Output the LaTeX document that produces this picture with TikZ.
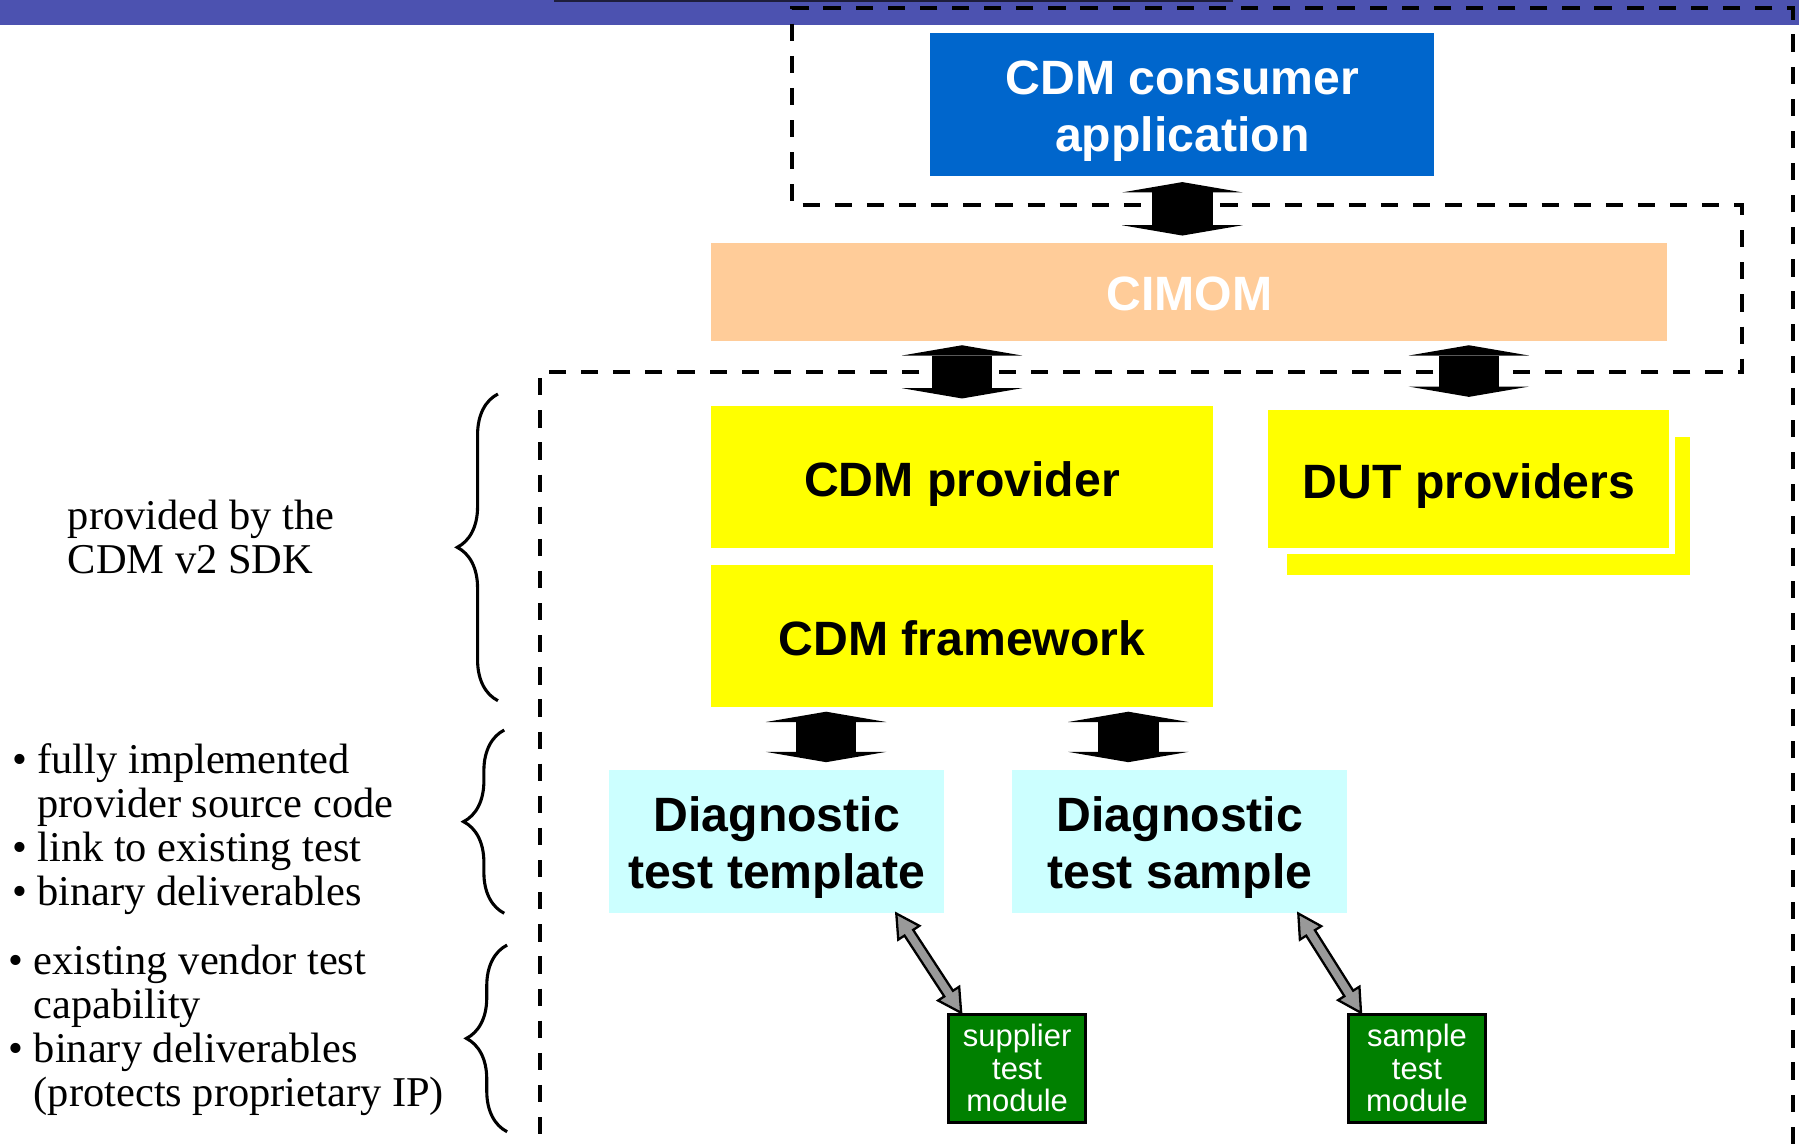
\documentclass[tikz,border=0pt]{standalone}
\usepackage{fontspec}
\setmainfont{Liberation Serif}
\setsansfont{Liberation Sans}
\usetikzlibrary{arrows.meta,calc,positioning,decorations.pathreplacing}

\definecolor{banner}{RGB}{76,82,176}
\definecolor{bannerline}{RGB}{30,30,60}
\definecolor{consumerblue}{HTML}{0066CC}
\definecolor{cimompeach}{HTML}{FFCC99}
\definecolor{provyellow}{RGB}{255,255,0}
\definecolor{diagcyan}{HTML}{CCFFFF}
\definecolor{modgreen}{HTML}{008000}
\definecolor{arrowgray}{HTML}{999999}

\newcommand{\notebullet}{\textbullet\hspace{9pt}}
\newcommand{\noteindent}{\phantom{\notebullet}}

\begin{document}
\begin{tikzpicture}[x=1pt,y=-1pt,
    blockbox/.style={inner sep=0pt, align=center, font=\sffamily\bfseries\fontsize{42}{50}\selectfont},
    oneline/.style={blockbox, text height=33pt, text depth=0pt},
    blockarrow/.style={line width=53pt,
      {Triangle[width=105pt,length=9pt,line width=0pt]}-{Triangle[width=105pt,length=9pt,line width=0pt]},
      shorten <=3.7pt, shorten >=6.5pt},
    grayarrow/.style={fill=arrowgray, draw=black, line width=2pt},
    testmodule/.style={draw=black, line width=2.5pt, fill=modgreen, text=white, inner sep=0pt,
      minimum width=119pt, minimum height=94pt, align=center,
      font=\sffamily\fontsize{27}{28.4}\selectfont},
    note/.style={anchor=west, align=left, inner sep=0pt, font=\fontsize{37}{38.2}\selectfont},
    sdkbrace/.style={decorate, decoration={brace, amplitude=35.5pt}, line width=2.7pt},
    regionline/.style={draw, line width=3.5pt, dash pattern=on 15pt off 13pt}]

    \useasboundingbox (0,0) rectangle (1568,997);

    % top band
    \fill[banner] (0,0) rectangle (1568,21.8);
    \fill[bannerline] (483,0) rectangle (1075,1.8);

    % dashed outline
    \draw[regionline] (1563,997) -- (1563,7.3) -- (690,7.3) -- (690,179) -- (1518,179)
      -- (1518,324) -- (471,324) -- (471,997);

    % boxes
    \node[blockbox, fill=consumerblue, text=white, minimum width=439pt, minimum height=124pt]
      (consumer) at (1030.5,91) {\rule{0pt}{41pt}CDM consumer\\application};
    \node[oneline, fill=cimompeach, text=white, minimum width=833pt, minimum height=85pt]
      (cimom) at (1036.5,254.5) {CIMOM};
    \node[oneline, fill=provyellow, minimum width=437pt, minimum height=124pt]
      (prov) at (838.5,416) {CDM provider};
    \node[oneline, fill=provyellow, minimum width=437pt, minimum height=124pt, below=14pt of prov]
      (fwork) {CDM framework};

    \node[fill=provyellow, minimum width=351.5pt, minimum height=120.4pt] (dutshade) at (1297.3,440.8) {};
    \node[oneline, fill=provyellow, draw=white, line width=5pt, minimum width=354.5pt, minimum height=125.6pt]
      (dut) at (1280.3,417.7) {DUT providers};

    \node[blockbox, fill=diagcyan, minimum width=292pt, minimum height=125pt]
      (tmpl) at (677,733.5) {\rule{0pt}{41pt}Diagnostic\\test template};
    \node[blockbox, fill=diagcyan, minimum width=292pt, minimum height=125pt, right=59pt of tmpl]
      (samp) {\rule{0pt}{41pt}Diagnostic\\test sample};

    \node[testmodule] (supmod) at (886.5,931) {supplier\\test\\module};
    \node[testmodule] (sammod) at (1235,931) {sample\\test\\module};

    % notes on the left
    \node[note] (sdknote) at (59,468) {provided by the\\CDM v2 SDK};
    \node[note] (provnote) at (10.5,722.5) {\notebullet fully implemented\\\noteindent provider source code\\
      \notebullet link to existing test\\\notebullet binary deliverables};
    \node[note] (vendnote) at (7.3,898) {\notebullet existing vendor test\\\noteindent capability\\
      \notebullet binary deliverables\\\noteindent (protects proprietary IP)};

    \draw[sdkbrace] (434,610.7) -- (434,343.4);
    \draw[sdkbrace] (439.5,796) -- (439.5,636.3);
    \draw[sdkbrace] (442,986.4) -- (442,823.7);

    % block arrows
    \coordinate (tmplin) at ([xshift=43pt]tmpl.north);
    \coordinate (sampin) at ([xshift=-45pt]samp.north);
    \path[blockarrow]
    (consumer.south) edge[shorten <=5.5pt] (consumer.south |- cimom.north)
    (prov.north |- cimom.south) edge (prov.north)
    (dut.north |- cimom.south) edge (dut.north)
    (tmplin |- fwork.south) edge (tmplin)
    (sampin |- fwork.south) edge (sampin)
    ;

    % links to the test modules
    \coordinate (tmplout) at ([xshift=-42pt]tmpl.south east);
    \coordinate (supin) at ([xshift=12pt]supmod.north west);
    \coordinate (sampout) at ([xshift=-43pt]samp.south east);
    \coordinate (samin) at ([xshift=12pt]sammod.north west);
    \foreach \a/\b in {tmplout/supin, sampout/samin}
    \draw[grayarrow] (\a) -- ($(\a)!20pt!(\b)!11pt!90:(\b)$) -- ($(\a)!20pt!(\b)!4.5pt!90:(\b)$)
      -- ($(\b)!20pt!(\a)!4.5pt!-90:(\a)$) -- ($(\b)!20pt!(\a)!11pt!-90:(\a)$) -- (\b)
      -- ($(\b)!20pt!(\a)!11pt!90:(\a)$) -- ($(\b)!20pt!(\a)!4.5pt!90:(\a)$)
      -- ($(\a)!20pt!(\b)!4.5pt!-90:(\b)$) -- ($(\a)!20pt!(\b)!11pt!-90:(\b)$) -- cycle;

  \end{tikzpicture}
\end{document}
